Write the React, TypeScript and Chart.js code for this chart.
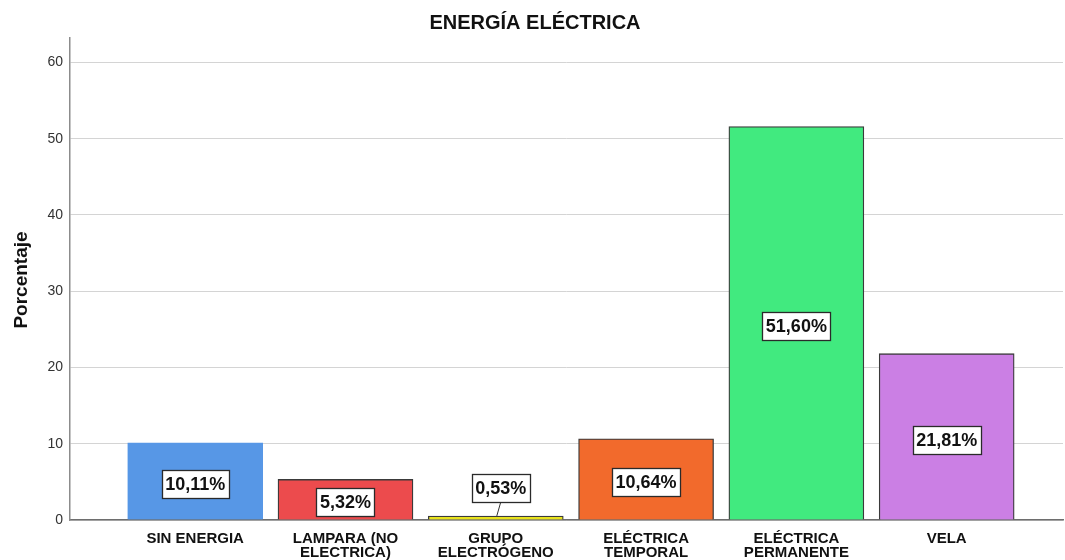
import React, { useEffect, useRef } from "react";
import { Chart, registerables } from "chart.js";

Chart.register(...registerables);

const chartTitle = "ENERGÍA ELÉCTRICA";
const yAxisTitle = "Porcentaje";
const categories: string[][] = [
  ["SIN ENERGIA"],
  ["LAMPARA (NO", "ELECTRICA)"],
  ["GRUPO", "ELECTRÓGENO"],
  ["ELÉCTRICA", "TEMPORAL"],
  ["ELÉCTRICA", "PERMANENTE"],
  ["VELA"],
];
const percentages = [10.11, 5.32, 0.53, 10.64, 51.6, 21.81];
const valueLabels = ["10,11%", "5,32%", "0,53%", "10,64%", "51,60%", "21,81%"];
const barColors = ["#5797E6", "#EC4B4D", "#E8E21C", "#F26A2C", "#41EA7F", "#CB7FE4"];
const barBorders = ["#5797E6", "#3a3a3a", "#3a3a3a", "#3a3a3a", "#3a3a3a", "#3a3a3a"];
const yTicks = [0, 10, 20, 30, 40, 50, 60];

const FONT = '"Liberation Sans", Arial, Helvetica, sans-serif';

const decorPlugin = {
  id: "decor",
  afterDatasetsDraw(chart: any) {
    const ctx = chart.ctx as CanvasRenderingContext2D;
    const meta = chart.getDatasetMeta(0);
    ctx.save();
    ctx.font = `bold 18px ${FONT}`;
    meta.data.forEach((bar: any, i: number) => {
      const { x, y, base } = bar.getProps(["x", "y", "base"], true);
      const text = valueLabels[i];
      const tw = ctx.measureText(text).width;
      const w = tw + 7;
      const h = 28;
      let cx = x;
      let cy = (y + base) / 2 + 3;
      let leader = false;
      if (base - y < h + 4) {
        cy = y - 28;
        cx = x + 5;
        leader = true;
      }
      if (leader) {
        ctx.strokeStyle = "#333";
        ctx.lineWidth = 1;
        ctx.beginPath();
        ctx.moveTo(cx, cy + h / 2);
        ctx.lineTo(x + 1, y);
        ctx.stroke();
      }
      const bx = Math.round(cx - w / 2) + 0.5;
      const by = Math.round(cy - h / 2) + 0.5;
      ctx.fillStyle = "#ffffff";
      ctx.fillRect(bx, by, Math.round(w), h);
      ctx.strokeStyle = "#2a2a2a";
      ctx.lineWidth = 1.3;
      ctx.strokeRect(bx, by, Math.round(w), h);
      ctx.fillStyle = "#111";
      ctx.textAlign = "center";
      ctx.textBaseline = "middle";
      ctx.fillText(text, cx, cy + 1);
    });
    ctx.restore();
  },
  afterDraw(chart: any) {
    const ctx = chart.ctx as CanvasRenderingContext2D;
    ctx.save();
    ctx.fillStyle = "#111";
    ctx.font = `bold 20px ${FONT}`;
    ctx.textAlign = "center";
    ctx.textBaseline = "alphabetic";
    ctx.fillText(chartTitle, 535, 29);
    ctx.font = `bold 19px ${FONT}`;
    ctx.translate(26.5, 280);
    ctx.rotate(-Math.PI / 2);
    ctx.fillText(yAxisTitle, 0, 0);
    ctx.restore();
  },
};

export default function App() {
  const canvasRef = useRef<HTMLCanvasElement | null>(null);

  useEffect(() => {
    if (!canvasRef.current) return;
    const chart = new Chart(canvasRef.current, {
      type: "bar",
      data: {
        datasets: [
          {
            data: percentages.map((v, i) => ({ x: i, y: v })),
            backgroundColor: barColors,
            borderColor: barBorders,
            borderWidth: 1.3,
            barThickness: 135,
          },
        ],
      },
      options: {
        responsive: false,
        animation: false,
        layout: { padding: { top: 38, right: 2, left: 0, bottom: 0 } },
        plugins: {
          legend: { display: false },
          title: { display: false },
          tooltip: { enabled: false },
        },
        scales: {
          x: {
            type: "linear",
            offset: false,
            min: -0.833,
            max: 5.774,
            afterBuildTicks: (scale: any) => {
              scale.ticks = categories.map((_, i) => ({ value: i }));
            },
            afterFit: (scale: any) => {
              scale.height = 40;
            },
            grid: { display: false, drawTicks: false, offset: false },
            border: { display: true, color: "#6e6e6e", width: 1.5 },
            ticks: {
              autoSkip: false,
              maxRotation: 0,
              minRotation: 0,
              padding: 12,
              color: "#111",
              font: { family: FONT, size: 15, weight: "bold", lineHeight: 0.93 },
              callback: (value: any) => categories[Math.round(Number(value))] ?? "",
            },
          },
          y: {
            min: 0,
            max: 63.2,
            afterBuildTicks: (scale: any) => {
              scale.ticks = yTicks.map((v) => ({ value: v }));
            },
            afterFit: (scale: any) => {
              scale.width = 70;
            },
            grid: { color: "#d4d4d4", lineWidth: 1, drawTicks: false },
            border: { display: true, color: "#8c8c8c", width: 1.5 },
            ticks: {
              padding: 7,
              color: "#333",
              font: { family: FONT, size: 14 },
            },
          },
        },
      },
      plugins: [decorPlugin],
    } as any);
    return () => chart.destroy();
  }, []);

  return (
    <div style={{ position: "absolute", left: 0, top: 0, width: 1065, height: 560, background: "#fff" }}>
      <canvas ref={canvasRef} width={1065} height={560} />
    </div>
  );
}
